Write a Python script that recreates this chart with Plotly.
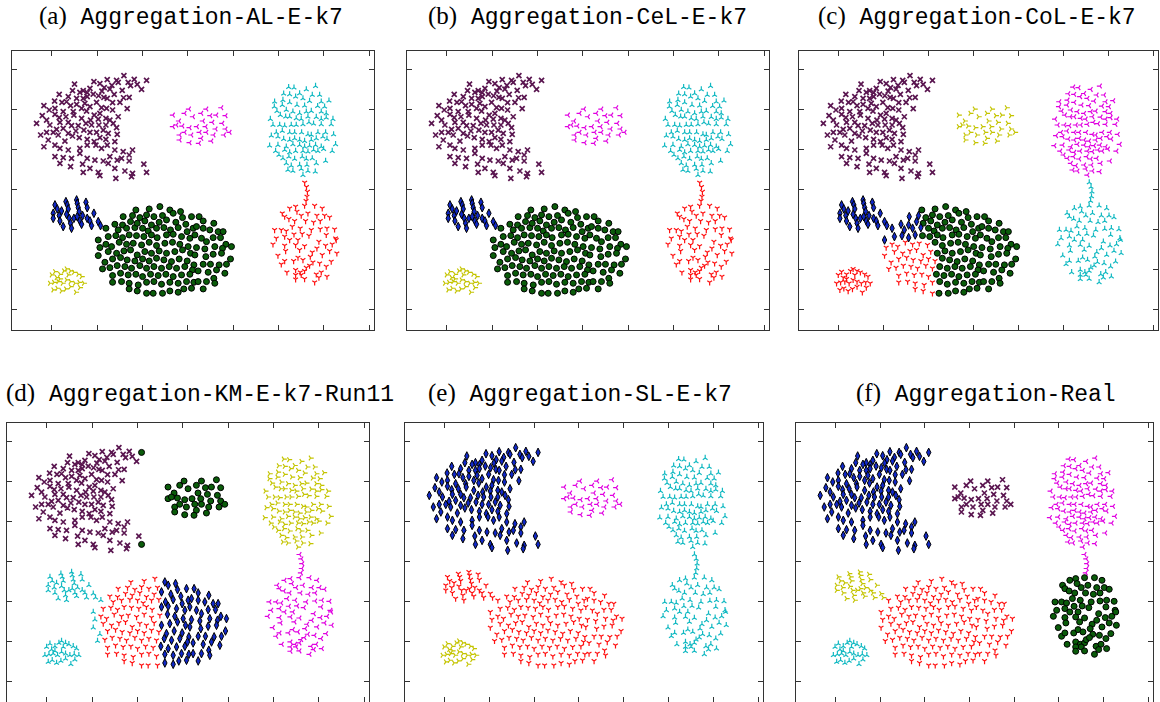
import plotly.graph_objects as go

# ---------------------------------------------------------------------------
# Aggregation data set, split into the pieces that the six labelings share
# ---------------------------------------------------------------------------
C_SHAPE = [
    (12.95, 29.22), (11.11, 28.72), (12.14, 28.63), (14.09, 28.76), (9.64, 28.47),
    (10.3, 28.22), (12.32, 28.39), (13.42, 28.39), (7.5, 28.18), (13.68, 27.97),
    (14.42, 28.14), (11.62, 28.01), (10.78, 27.72), (9.2, 27.64), (8.46, 27.35),
    (7.28, 27.35), (8.09, 27.14), (8.9, 27.1), (9.56, 26.93), (10.52, 27.3),
    (11.4, 27.55), (12.76, 27.39), (14.9, 27.51), (13.53, 26.52), (12.91, 26.47),
    (11.88, 26.89), (10.74, 26.52), (10.15, 26.72), (8.9, 26.6), (8.46, 26.39),
    (7.73, 26.39), (6.81, 26.6), (5.81, 26.89), (5.3, 26.06), (6.11, 25.89),
    (6.62, 25.97), (7.06, 25.48), (7.73, 25.64), (8.64, 25.77), (9.2, 25.35),
    (9.93, 25.89), (11.11, 26.39), (12.51, 25.89), (13.31, 25.1), (11.7, 25.85),
    (10.48, 25.23), (11.03, 25.14), (11.7, 24.94), (12.32, 24.1), (10.3, 24.52),
    (9.67, 24.31), (8.83, 24.81), (8.28, 25.14), (7.36, 24.73), (6.25, 24.73),
    (5.34, 25.14), (4.71, 24.94), (4.12, 25.48), (3.94, 24.23), (4.42, 23.69),
    (5.34, 24.4), (5.81, 23.98), (6.55, 24.1), (7.43, 24.31), (8.28, 23.9),
    (9.27, 23.69), (10.12, 23.81), (10.96, 23.9), (11.4, 23.69), (11.77, 23.27),
    (12.14, 22.73), (10.96, 23.07), (10.19, 23.07), (9.38, 23.07), (8.76, 23.27),
    (7.91, 22.98), (7.17, 22.98), (6.81, 23.4), (5.89, 23.4), (4.78, 23.07),
    (3.31, 23.27), (3.76, 21.82), (4.42, 22.15), (5.52, 22.53), (6.25, 22.65),
    (6.81, 22.03), (7.65, 22.32), (8.53, 22.44), (9.2, 22.15), (9.93, 22.15),
    (10.67, 22.44), (11.22, 22.03), (12.21, 21.9), (11.95, 20.99), (10.96, 21.28),
    (10.3, 21.49), (9.67, 20.99), (8.9, 21.28), (8.02, 21.49), (7.28, 21.7),
    (6.44, 21.07), (5.7, 21.82), (5.15, 22.15), (4.6, 21.2), (4.12, 20.36),
    (5.34, 20.57), (5.89, 20.16), (6.81, 19.95), (8.09, 20.16), (8.9, 20.57),
    (9.86, 20.57), (10.48, 20.16), (11.11, 20.57), (11.95, 19.95), (12.87, 19.74),
    (13.9, 19.95), (13.53, 19.33), (12.69, 18.91), (11.4, 19.12), (10.67, 18.58),
    (9.75, 18.7), (8.9, 18.91), (8.09, 19.53), (7.17, 18.91), (6.25, 18.99),
    (5.34, 19.12), (5.89, 18.29), (7.06, 17.87), (8.39, 18.2), (9.2, 17.66),
    (8.46, 17.16), (10.12, 17.16), (11.22, 18.29), (11.95, 17.66), (12.21, 18.7),
    (13.06, 17.33), (13.9, 17.04), (13.79, 16.62), (12.06, 16.42), (10.3, 16.75),
    (15.15, 18.2), (13.53, 18.58),
]
C_TIPS = [(15.45, 28.63), (15.45, 17.16)]

TOP_MID = [
    (18.37, 24.31), (19.66, 24.53), (20.14, 25.06), (19.04, 23.57), (20.58, 24.1),
    (18.37, 22.86), (18.75, 23.07), (19.41, 22.94), (20.21, 22.73), (19.11, 21.82),
    (19.66, 22.16), (20.4, 21.82), (19.11, 21.2), (22.06, 25.06), (23.71, 25.22),
    (21.5, 24.53), (22.5, 24.23), (23.16, 24.31), (24.18, 24.23), (21.68, 23.57),
    (22.72, 23.4), (23.82, 23.28), (21.02, 22.86), (21.98, 22.86), (23.08, 22.57),
    (24.18, 22.57), (24.63, 22.16), (21.32, 22.16), (22.06, 22.16), (22.86, 21.82),
    (24.0, 21.82), (21.5, 21.41), (22.61, 21.07), (21.24, 20.79), (20.21, 20.86),
]

TOP_RIGHT = [
    (31.13, 27.8), (31.72, 27.72), (33.08, 27.51), (34.1, 27.93), (30.58, 26.97),
    (31.24, 26.89), (32.34, 27.0), (33.74, 26.81), (34.55, 26.81), (29.58, 25.97),
    (30.5, 26.18), (31.9, 26.6), (32.71, 26.39), (33.44, 26.06), (34.73, 25.97),
    (35.58, 26.1), (35.1, 25.35), (34.33, 25.43), (32.89, 25.48), (32.05, 25.56),
    (31.24, 25.89), (30.43, 25.56), (29.55, 25.35), (29.84, 24.81), (30.87, 24.94),
    (31.6, 24.73), (32.34, 24.52), (33.08, 24.73), (33.63, 24.81), (34.73, 24.73),
    (35.28, 24.52), (30.21, 24.31), (30.8, 24.1), (31.24, 24.1), (31.97, 23.9),
    (32.52, 23.81), (33.26, 24.1), (34.18, 24.06), (34.73, 23.81), (35.28, 23.98),
    (36.02, 23.81), (29.11, 23.81), (29.4, 23.07), (30.14, 23.07), (30.69, 22.98),
    (31.42, 23.07), (31.97, 23.07), (32.71, 23.15), (33.37, 23.4), (33.88, 23.23),
    (34.73, 23.15), (35.83, 23.15), (29.77, 22.15), (30.43, 22.32), (31.24, 22.15),
    (31.79, 22.15), (32.56, 22.15), (33.26, 21.9), (33.63, 21.82), (34.36, 22.15),
    (35.21, 22.15), (36.09, 21.9), (29.22, 21.74), (29.95, 21.61), (30.58, 21.32),
    (31.24, 21.2), (31.79, 21.4), (32.34, 21.2), (32.89, 21.07), (33.63, 21.2),
    (34.18, 21.4), (34.91, 21.61), (35.36, 21.32), (29.03, 20.49), (29.95, 20.57),
    (30.87, 20.36), (31.6, 20.66), (32.34, 20.57), (32.89, 20.36), (33.44, 20.49),
    (34.1, 20.57), (34.73, 20.36), (36.31, 20.66), (29.69, 19.82), (30.69, 19.95),
    (31.24, 19.66), (31.9, 19.82), (32.71, 19.82), (33.26, 19.74), (33.88, 19.95),
    (34.36, 19.82), (34.99, 20.07), (35.94, 19.82), (30.06, 19.33), (30.5, 18.91),
    (31.16, 19.12), (31.79, 18.83), (32.63, 19.12), (33.08, 18.83), (33.74, 18.91),
    (35.21, 18.58), (30.87, 18.29), (31.42, 18.0), (32.34, 18.08), (33.15, 18.08),
    (34.18, 18.29), (31.05, 17.46), (31.6, 17.33), (32.52, 17.58), (33.26, 17.33),
    (32.71, 16.83), (34.07, 17.25),
]

BRIDGE = [(32.9, 15.9), (33.1, 15.35), (33.2, 14.75), (33.15, 14.15), (33.05, 13.6)]

BOTTOM_RIGHT = [
    (31.24, 12.68), (31.9, 12.89), (32.89, 13.01), (34.0, 13.01), (34.84, 12.68),
    (30.43, 12.06), (30.69, 11.64), (32.05, 12.27), (32.52, 11.77), (33.26, 12.06),
    (34.25, 11.77), (35.1, 11.77), (35.65, 11.56), (31.16, 11.35), (31.79, 11.1),
    (33.0, 11.1), (33.88, 10.94), (34.62, 11.1), (29.58, 9.98), (30.32, 9.98),
    (30.87, 9.85), (31.53, 10.4), (32.41, 10.19), (32.63, 9.48), (33.63, 9.98),
    (34.62, 10.1), (35.36, 10.19), (36.2, 10.06), (29.77, 8.94), (30.69, 9.15),
    (31.72, 9.44), (33.37, 9.27), (35.28, 9.36), (36.31, 8.94), (29.4, 8.19),
    (30.69, 8.03), (31.24, 8.73), (32.16, 8.73), (32.89, 7.98), (34.47, 8.52),
    (35.21, 8.03), (35.94, 8.19), (36.38, 8.73), (29.95, 6.78), (30.8, 7.36),
    (31.9, 8.11), (32.34, 7.49), (33.74, 7.2), (34.25, 7.69), (34.84, 6.86),
    (35.65, 7.36), (36.45, 7.07), (30.32, 5.7), (30.69, 6.11), (31.68, 6.11),
    (32.16, 6.53), (32.71, 6.24), (33.52, 6.65), (33.81, 5.95), (34.55, 5.82),
    (35.28, 5.41), (35.83, 6.03), (30.94, 4.7), (31.9, 4.99), (32.41, 4.7),
    (32.89, 4.87), (33.08, 5.28), (33.44, 5.53), (32.52, 4.37), (31.9, 4.37),
    (34.18, 4.45), (34.73, 4.7), (35.36, 4.16), (32.89, 3.87), (31.9, 3.83),
    (34.0, 3.45), (34.47, 4.04),
]

SMALL_LEFT = [
    (5.34, 13.1), (5.15, 12.06), (5.15, 11.43), (5.59, 12.6), (5.81, 11.77),
    (6.07, 12.35), (5.89, 11.1), (6.25, 10.4), (6.55, 13.51), (6.7, 13.1),
    (6.81, 12.6), (6.62, 11.93), (6.92, 11.43), (7.06, 10.81), (7.17, 10.19),
    (7.43, 11.43), (7.73, 13.72), (7.8, 13.3), (7.91, 12.76), (8.02, 12.27),
    (7.8, 11.64), (8.09, 11.1), (8.28, 10.69), (8.39, 11.77), (8.76, 13.43),
    (8.9, 12.76), (8.9, 11.43), (9.2, 11.1), (9.38, 10.52), (9.64, 12.06),
    (10.12, 11.02), (10.37, 10.52),
]

SMALL_CORNER = [
    (4.97, 4.37), (5.34, 4.78), (5.52, 4.04), (5.89, 4.45), (6.33, 4.87),
    (6.62, 5.12), (7.06, 4.87), (7.43, 4.7), (7.91, 4.45), (8.28, 4.16),
    (8.53, 3.33), (4.78, 3.33), (5.23, 3.45), (5.7, 3.54), (6.18, 3.33),
    (6.62, 3.75), (7.06, 3.54), (7.54, 3.33), (8.02, 3.45), (5.15, 2.5),
    (5.59, 2.71), (6.07, 2.37), (6.55, 2.62), (7.06, 2.91), (7.65, 2.21),
    (5.89, 3.87), (6.81, 4.37), (8.09, 2.79),
]

# the large ellipse, in the pieces the algorithms cut it into
BIG_EDGE_UP = [(10.96, 10.19), (10.12, 8.73)]
BIG_EDGE_LOW = [(10.3, 7.78), (10.12, 6.78), (10.85, 5.95), (10.59, 5.12)]
BIG_UPPER_LEFT = [
    (12.87, 11.64), (13.9, 11.77), (11.95, 10.69), (12.8, 10.6), (13.68, 11.02),
    (12.32, 9.98), (13.24, 10.19), (14.16, 10.27), (11.22, 9.15), (12.06, 9.27),
    (12.8, 9.02), (13.53, 9.36),
]
BIG_LOWER_LEFT = [
    (10.96, 8.19), (11.59, 7.9), (12.43, 8.44), (13.24, 8.19), (13.98, 8.32),
    (14.9, 8.11), (11.22, 7.28), (12.14, 7.07), (12.95, 7.36), (13.68, 7.49),
    (14.42, 6.86), (15.26, 7.28), (11.7, 6.36), (12.58, 6.53), (13.31, 6.24),
    (14.16, 6.11), (15.01, 6.36), (15.74, 6.11), (11.4, 5.28), (12.21, 5.53),
    (13.06, 5.41), (13.79, 5.2), (14.71, 5.53), (15.45, 5.2), (11.7, 4.29),
    (12.58, 4.58), (13.42, 4.37), (14.27, 4.45), (15.01, 4.16), (11.7, 3.45),
    (12.69, 3.54), (13.53, 3.33), (14.53, 3.12), (15.45, 3.45), (13.53, 2.62),
    (14.42, 2.37), (15.45, 2.08),
]
BIG_MIDDLE = [
    (14.27, 12.47), (15.74, 12.6), (16.92, 12.89), (14.71, 11.52), (15.45, 11.85),
    (16.26, 11.64), (17.21, 11.77), (14.42, 10.81), (15.26, 11.1), (15.99, 10.6),
    (16.84, 10.94), (15.01, 10.19), (15.63, 9.85), (16.55, 10.19), (17.36, 10.27),
    (14.34, 9.27), (15.15, 9.15), (15.99, 9.36), (16.62, 9.02), (15.74, 8.44),
    (16.55, 8.03), (17.47, 8.32), (15.99, 7.07), (16.84, 7.36), (16.55, 6.45),
    (17.36, 6.24), (16.26, 5.41), (17.1, 5.2), (15.89, 4.45), (16.73, 4.29),
    (16.26, 3.54), (17.1, 3.21), (16.18, 2.08), (17.21, 2.08),
]
BIG_RIGHT = [
    (18.02, 12.47), (19.2, 12.27), (20.41, 11.64), (18.39, 12.06), (19.42, 11.52),
    (17.65, 11.23), (18.68, 10.94), (19.78, 10.69), (20.59, 10.19), (18.09, 9.98),
    (18.94, 10.27), (19.93, 9.77), (17.65, 9.36), (18.39, 9.44), (19.31, 9.15),
    (20.23, 8.94), (18.31, 8.44), (19.12, 8.19), (20.04, 7.9), (17.65, 7.07),
    (18.57, 7.28), (19.42, 7.49), (20.3, 7.07), (18.2, 6.03), (19.05, 6.36),
    (19.93, 6.11), (20.67, 5.62), (17.95, 5.41), (18.76, 5.2), (19.67, 5.41),
    (20.52, 4.99), (17.58, 4.45), (18.39, 4.16), (19.31, 4.37), (20.23, 4.45),
    (18.02, 3.45), (18.94, 3.33), (19.86, 3.54), (20.67, 3.45), (18.02, 2.37),
    (18.94, 2.21), (19.56, 2.62), (20.41, 2.71), (21.25, 11.64), (21.7, 11.1),
    (22.87, 10.81), (20.96, 10.4), (21.7, 10.19), (22.43, 9.98), (23.35, 9.77),
    (23.9, 9.77), (20.78, 9.36), (21.51, 8.94), (22.8, 9.02), (23.61, 9.02),
    (22.06, 8.52), (24.2, 8.19), (24.82, 7.9), (20.96, 7.78), (21.88, 7.61),
    (22.98, 7.9), (23.83, 7.69), (20.78, 6.86), (21.99, 6.65), (22.8, 6.95),
    (23.72, 7.07), (24.71, 6.36), (21.7, 5.7), (22.5, 5.7), (23.46, 5.62),
    (24.27, 5.7), (21.14, 4.87), (22.25, 4.7), (23.17, 4.99), (24.09, 4.58),
    (21.14, 3.54), (22.06, 3.54), (22.87, 3.95), (22.98, 3.33), (21.7, 2.62),
]

PIECES = {
    "c_shape": C_SHAPE, "c_tips": C_TIPS, "top_mid": TOP_MID,
    "top_right": TOP_RIGHT, "bridge": BRIDGE, "bottom_right": BOTTOM_RIGHT,
    "small_left": SMALL_LEFT, "small_corner": SMALL_CORNER,
    "big_edge_up": BIG_EDGE_UP, "big_edge_low": BIG_EDGE_LOW,
    "big_upper_left": BIG_UPPER_LEFT, "big_lower_left": BIG_LOWER_LEFT,
    "big_middle": BIG_MIDDLE, "big_right": BIG_RIGHT,
}

BIG = ["big_edge_up", "big_edge_low", "big_upper_left", "big_lower_left",
       "big_middle", "big_right"]

# cluster label (drawn as a colour/marker class) of every piece, per method
LABEL_AL = dict(c_shape="purple", c_tips="purple", top_mid="magenta",
                top_right="cyan", bridge="red", bottom_right="red",
                small_left="blue", small_corner="yellow", **{k: "green" for k in BIG})
LABEL_CEL = dict(LABEL_AL)
LABEL_COL = dict(c_shape="purple", c_tips="purple", top_mid="yellow",
                 top_right="magenta", bridge="cyan", bottom_right="cyan",
                 small_left="blue", small_corner="red",
                 big_edge_up="blue", big_upper_left="blue",
                 big_edge_low="red", big_lower_left="red",
                 big_middle="green", big_right="green")
LABEL_KM = dict(c_shape="purple", c_tips="green", top_mid="green",
                top_right="yellow", bridge="magenta", bottom_right="magenta",
                small_left="cyan", small_corner="cyan",
                big_edge_up="cyan", big_edge_low="cyan",
                big_upper_left="red", big_lower_left="red",
                big_middle="red", big_right="blue")
LABEL_SL = dict(c_shape="blue", c_tips="blue", top_mid="magenta",
                top_right="cyan", bridge="cyan", bottom_right="cyan",
                small_left="red", small_corner="yellow", **{k: "red" for k in BIG})
LABEL_REAL = dict(c_shape="blue", c_tips="blue", top_mid="purple",
                  top_right="magenta", bridge="magenta", bottom_right="green",
                  small_left="yellow", small_corner="cyan", **{k: "red" for k in BIG})

PANELS = [
    ("(a)", "Aggregation-AL-E-k7", LABEL_AL),
    ("(b)", "Aggregation-CeL-E-k7", LABEL_CEL),
    ("(c)", "Aggregation-CoL-E-k7", LABEL_COL),
    ("(d)", "Aggregation-KM-E-k7-Run11", LABEL_KM),
    ("(e)", "Aggregation-SL-E-k7", LABEL_SL),
    ("(f)", "Aggregation-Real", LABEL_REAL),
]

X_TICKS = [5, 10, 15, 20, 25, 30, 35, 40]
Y_TICKS = [0, 5, 10, 15, 20, 25, 30]

# marker look of each class
STYLE = {
    "purple": dict(symbol="x-thin", size=5, color="#5a1650",
                   line=dict(color="#5a1650", width=1.7)),
    "magenta": dict(symbol="y-left", size=4, color="#e000e0",
                    line=dict(color="#e000e0", width=1.2)),
    "cyan": dict(symbol="y-up", size=4, color="#12b9c2",
                 line=dict(color="#12b9c2", width=1.2)),
    "red": dict(symbol="y-down", size=4, color="#ff1010",
                line=dict(color="#ff1010", width=1.2)),
    "yellow": dict(symbol="y-right", size=4, color="#c4c400",
                   line=dict(color="#c4c400", width=1.2)),
    "green": dict(symbol="circle", size=6, color="#0a5c0a",
                  line=dict(color="#000000", width=1)),
    "blue": dict(symbol="diamond-tall", size=6.2, color="#1028c8",
                 line=dict(color="#000000", width=1)),
}
DRAW_ORDER = ["purple", "magenta", "cyan", "red", "yellow", "green", "blue"]

# panel boxes in pixels: (left, right, top, bottom) within a 1160 x 702 page
W, H = 1160, 702
BOXES = [
    (12, 374, 51, 330), (407, 769, 51, 330), (799, 1158, 51, 330),
    (7, 369, 423, 702), (405, 763, 423, 702), (796, 1153, 423, 702),
]
TITLE_POS = [(191, 17), (587, 17), (977, 17), (200, 393), (580, 393), (986, 393)]

fig = go.Figure()
for i, (tag, name, labels) in enumerate(PANELS):
    ax = "" if i == 0 else str(i + 1)
    for cls in DRAW_ORDER:
        xs, ys = [], []
        for piece, lab in labels.items():
            if lab == cls:
                xs += [p[0] for p in PIECES[piece]]
                ys += [p[1] for p in PIECES[piece]]
        if not xs:
            continue
        fig.add_trace(go.Scatter(x=xs, y=ys, mode="markers", marker=STYLE[cls],
                                 xaxis="x" + ax, yaxis="y" + ax,
                                 showlegend=False, hoverinfo="skip"))
    l, r, t, b = BOXES[i]
    axis_common = dict(showgrid=False, zeroline=False, showticklabels=False,
                       ticks="inside", ticklen=5, tickwidth=1, tickcolor="#333",
                       showline=True, linecolor="#333", linewidth=1,
                       mirror="ticks")
    fig.layout["xaxis" + ax] = dict(domain=[l / W, r / W], range=[0.6, 40.55],
                                    tickvals=X_TICKS, anchor="y" + ax, **axis_common)
    fig.layout["yaxis" + ax] = dict(domain=[1 - b / H, 1 - t / H], range=[-2.5, 32.3],
                                    tickvals=Y_TICKS, anchor="x" + ax, **axis_common)
    cx, cy = TITLE_POS[i]
    fig.add_annotation(
        x=cx / W, y=1 - cy / H, xref="paper", yref="paper",
        xanchor="center", yanchor="middle", showarrow=False,
        text=(f"<span style='font-family:Liberation Serif;font-size:25px'>{tag}</span> "
              f"<span style='font-family:Liberation Mono'>{name}</span>"),
        font=dict(size=23, color="#000000", family="Liberation Mono"),
    )

fig.update_layout(width=W, height=H, margin=dict(l=0, r=0, t=0, b=0),
                  paper_bgcolor="white", plot_bgcolor="white")
fig.write_html("out.html")
